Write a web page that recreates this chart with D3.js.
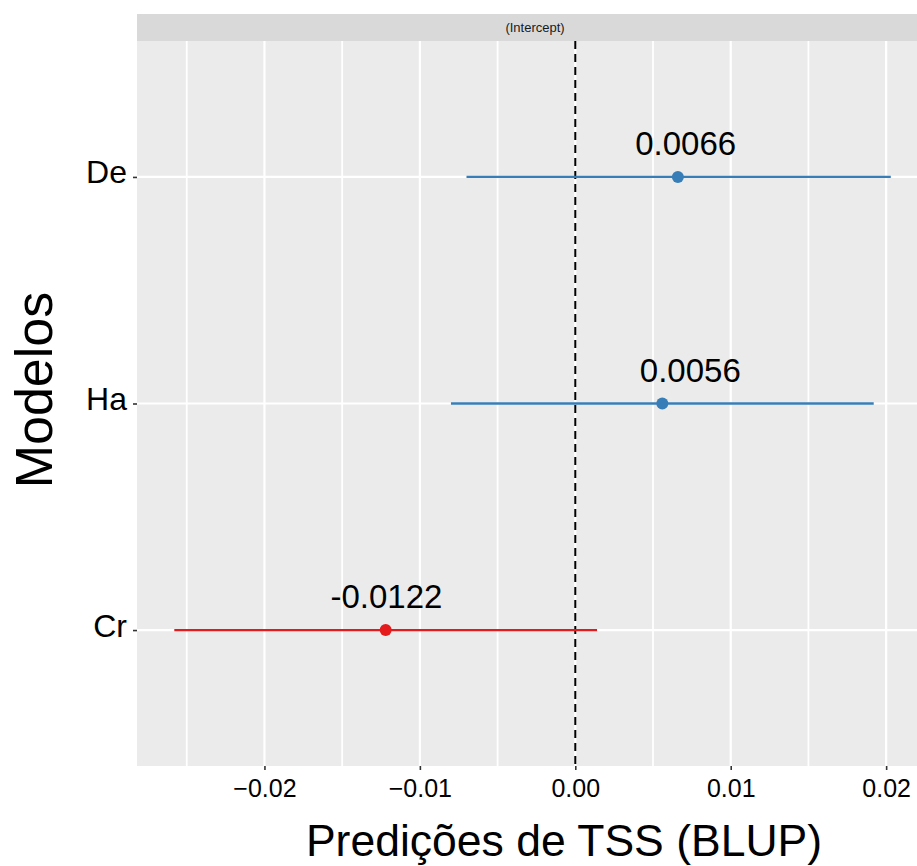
<!DOCTYPE html>
<html>
<head>
<meta charset="utf-8">
<script src="https://cdn.jsdelivr.net/npm/d3@7"></script>
<style>
  html, body { margin: 0; padding: 0; background: #fff; }
  svg { display: block; }
</style>
</head>
<body>
<svg id="chart" width="917" height="866"></svg>
<script>
// Random-effect predictions (BLUP) of TSS per model, intercept term
const modelos   = ["De", "Ha", "Cr"];
const estimates = [0.0066, 0.0056, -0.0122];
const lower     = [-0.0070, -0.0080, -0.0258];
const upper     = [0.0203, 0.0192, 0.0014];
const labelX    = [0.0071, 0.0074, -0.01215];
const labels    = ["0.0066", "0.0056", "-0.0122"];
const xTicks    = [-0.02, -0.01, 0.00, 0.01, 0.02];
const xTickText = ["\u22120.02", "\u22120.01", "0.00", "0.01", "0.02"];
const xMinor    = [-0.025, -0.015, -0.005, 0.005, 0.015];
const stripText = "(Intercept)";
const xTitle    = "Predições de TSS (BLUP)";
const yTitle    = "Modelos";

const colorFor = v => v < 0 ? "#E41A1C" : "#377EB8";

const svg = d3.select("#chart");
const panel = { left: 137, right: 925, top: 41, bottom: 766 };
const strip = { top: 14, bottom: 41 };

const x = d3.scaleLinear().domain([-0.0282, 0.0225]).range([panel.left, panel.right]);
const y = d3.scalePoint().domain(modelos).range([panel.top, panel.bottom]).padding(0.6);

// strip
svg.append("rect")
  .attr("x", panel.left).attr("y", strip.top)
  .attr("width", panel.right - panel.left).attr("height", strip.bottom - strip.top)
  .attr("fill", "#D9D9D9");
svg.append("text")
  .attr("x", 535).attr("y", (strip.top + strip.bottom) / 2 + 4.5)
  .attr("text-anchor", "middle")
  .attr("font-family", "Liberation Sans, Arial, sans-serif")
  .attr("font-size", 13).attr("fill", "#1A1A1A")
  .text(stripText);

// panel background
svg.append("rect")
  .attr("x", panel.left).attr("y", panel.top)
  .attr("width", panel.right - panel.left).attr("height", panel.bottom - panel.top)
  .attr("fill", "#EBEBEB");

const grid = svg.append("g");
grid.selectAll("line.minor").data(xMinor).join("line")
  .attr("class", "minor")
  .attr("x1", d => x(d)).attr("x2", d => x(d))
  .attr("y1", panel.top).attr("y2", panel.bottom)
  .attr("stroke", "#fff").attr("stroke-width", 1.8);
grid.selectAll("line.majorx").data(xTicks).join("line")
  .attr("class", "majorx")
  .attr("x1", d => x(d)).attr("x2", d => x(d))
  .attr("y1", panel.top).attr("y2", panel.bottom)
  .attr("stroke", "#fff").attr("stroke-width", 2.2);
grid.selectAll("line.majory").data(modelos).join("line")
  .attr("class", "majory")
  .attr("x1", panel.left).attr("x2", panel.right)
  .attr("y1", d => y(d)).attr("y2", d => y(d))
  .attr("stroke", "#fff").attr("stroke-width", 2.2);

// zero reference line
svg.append("line")
  .attr("x1", x(0)).attr("x2", x(0))
  .attr("y1", panel.top).attr("y2", panel.bottom)
  .attr("stroke", "#000").attr("stroke-width", 2)
  .attr("stroke-dasharray", "8,5");

// intervals, points, labels
const rows = modelos.map((m, i) => ({ m, est: estimates[i], lo: lower[i], hi: upper[i], lx: labelX[i], lab: labels[i] }));
const marks = svg.append("g");
marks.selectAll("line.ci").data(rows).join("line")
  .attr("class", "ci")
  .attr("x1", d => x(d.lo)).attr("x2", d => x(d.hi))
  .attr("y1", d => y(d.m)).attr("y2", d => y(d.m))
  .attr("stroke", d => colorFor(d.est)).attr("stroke-width", 2.3);
marks.selectAll("circle").data(rows).join("circle")
  .attr("cx", d => x(d.est)).attr("cy", d => y(d.m)).attr("r", 6)
  .attr("fill", d => colorFor(d.est));
marks.selectAll("text").data(rows).join("text")
  .attr("x", d => x(d.lx)).attr("y", d => y(d.m) - 22)
  .attr("text-anchor", "middle")
  .attr("font-family", "Liberation Sans, Arial, sans-serif")
  .attr("font-size", 33).attr("fill", "#000")
  .text(d => d.lab);

// x axis
const xAxis = d3.axisBottom(x).tickValues(xTicks).tickSize(4).tickPadding(8)
  .tickFormat((d, i) => xTickText[i]);
const gx = svg.append("g").attr("transform", `translate(0,${panel.bottom})`).call(xAxis);
gx.select(".domain").remove();
gx.selectAll(".tick line").attr("stroke", "#333").attr("stroke-width", 1.6);
gx.selectAll(".tick text")
  .attr("font-family", "Liberation Sans Narrow, Arial Narrow, sans-serif")
  .attr("font-size", 25).attr("fill", "#000")
  .attr("y", 31).attr("dy", null);

// y axis
const yAxis = d3.axisLeft(y).tickSize(4).tickPadding(6);
const gy = svg.append("g").attr("transform", `translate(${panel.left},0)`).call(yAxis);
gy.select(".domain").remove();
gy.selectAll(".tick line").attr("stroke", "#333").attr("stroke-width", 1.6);
gy.selectAll(".tick text")
  .attr("font-family", "Liberation Sans, Arial, sans-serif")
  .attr("font-size", 32).attr("fill", "#000")
  .attr("dy", null).attr("y", 6);

// axis titles
svg.append("text")
  .attr("x", 564).attr("y", 856)
  .attr("text-anchor", "middle")
  .attr("font-family", "Liberation Sans, Arial, sans-serif")
  .attr("font-size", 44.5).attr("fill", "#000")
  .text(xTitle);
svg.append("text")
  .attr("transform", `translate(52,${(strip.top + panel.bottom) / 2}) rotate(-90)`)
  .attr("text-anchor", "middle")
  .attr("font-family", "Liberation Sans, Arial, sans-serif")
  .attr("font-size", 52).attr("fill", "#000")
  .text(yTitle);
</script>
</body>
</html>
